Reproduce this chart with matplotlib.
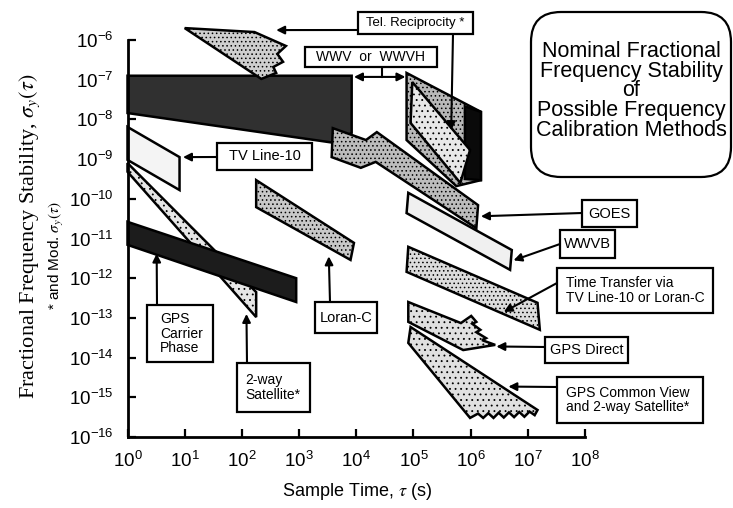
import numpy as np
import matplotlib
matplotlib.use("Agg")
import matplotlib.pyplot as plt
from matplotlib.patches import Polygon, Rectangle, FancyBboxPatch

plt.rcParams['font.family'] = ['Liberation Sans', 'DejaVu Sans']
plt.rcParams['mathtext.fontset'] = 'stix'
plt.rcParams['hatch.linewidth'] = 0.6

# band outlines as (log10 tau, log10 sigma) vertices
wwv_tau = [0, 3.92, 3.92, 3.61, 0]
wwv_sig = [-6.9, -6.9, -8.34, -8.59, -7.84]

wwv_hi_tau = [4.88, 6.18, 6.18, 5.75, 4.88]
wwv_hi_sig = [-6.83, -7.81, -9.53, -9.68, -8.52]

# solid dark strip along the right side of the upper WWV block
wwv_edge_tau = [5.90, 6.18, 6.18, 5.90]
wwv_edge_sig = [-7.67, -7.81, -9.53, -9.50]

tel_tau = [1.0, 2.22, 2.77, 2.62, 2.72, 2.55, 2.60, 2.34]
tel_sig = [-5.70, -5.80, -6.15, -6.35, -6.55, -6.68, -6.83, -6.98]

tel_hi_tau = [4.98, 5.99, 5.82, 4.95]
tel_hi_sig = [-7.06, -8.77, -9.60, -8.09]

tv_tau = [0, 0.91, 0.91, 0]
tv_sig = [-8.19, -8.95, -9.78, -9.02]

sat_tau = [0, 2.25, 2.25, 0]
sat_sig = [-9.10, -12.35, -12.98, -9.32]

loran_tau = [2.25, 3.96, 3.90, 2.25]
loran_sig = [-9.53, -11.11, -11.54, -10.21]

carrier_tau = [0, 2.95, 2.95, 0]
carrier_sig = [-10.58, -12.0, -12.6, -11.16]

goes_tau = [3.59, 4.17, 4.36, 6.13, 6.10, 4.34, 4.08, 3.57]
goes_sig = [-8.22, -8.52, -8.32, -10.16, -10.74, -9.07, -9.22, -8.95]

wwvb_tau = [4.91, 6.72, 6.69, 4.88]
wwvb_sig = [-9.85, -11.29, -11.79, -10.36]

transfer_tau = [4.91, 7.17, 7.21, 4.88]
transfer_sig = [-11.21, -12.62, -13.30, -11.84]

gpsd_tau = [4.91, 5.83, 6.01, 6.10, 6.03, 6.17, 6.10, 6.27, 6.20, 6.43, 5.87, 4.91]
gpsd_sig = [-12.60, -13.13, -12.95, -13.10, -13.15, -13.30, -13.36, -13.51, -13.56, -13.68, -13.81, -13.10]

cv_tau = [4.95, 7.17, 7.12, 7.03, 6.94, 6.85, 6.76, 6.67, 6.58, 6.49, 6.40, 6.31, 6.22, 6.13, 5.99, 4.91]
cv_sig = [-13.23, -15.32, -15.45, -15.36, -15.49, -15.37, -15.50, -15.38, -15.51, -15.39, -15.52, -15.40, -15.52, -15.41, -15.52, -13.63]

# (tau, sigma, face colour, speckle hatch)
bands = [
    (wwv_tau, wwv_sig, '#303030', None),
    (wwv_hi_tau, wwv_hi_sig, '#b8b8b8', '....'),
    (wwv_edge_tau, wwv_edge_sig, '#0a0a0a', None),
    (tel_tau, tel_sig, '#cfcfcf', '....'),
    (tel_hi_tau, tel_hi_sig, '#e8e8e8', '...'),
    (tv_tau, tv_sig, '#f4f4f4', None),
    (sat_tau, sat_sig, '#e6e6e6', '...'),
    (loran_tau, loran_sig, '#c8c8c8', '....'),
    (carrier_tau, carrier_sig, '#1c1c1c', None),
    (goes_tau, goes_sig, '#bcbcbc', '....'),
    (wwvb_tau, wwvb_sig, '#f0f0f0', None),
    (transfer_tau, transfer_sig, '#dcdcdc', '....'),
    (gpsd_tau, gpsd_sig, '#e0e0e0', '...'),
    (cv_tau, cv_sig, '#e0e0e0', '...'),
]

W, H = 733, 508
fig = plt.figure(figsize=(W / 100, H / 100), dpi=100)
ax = fig.add_axes([127.5 / W, (H - 437) / H, (585 - 127.5) / W, (437 - 40) / H])
ax.set_xscale('log')
ax.set_yscale('log')
ax.set_xlim(1, 1e8)
ax.set_ylim(1e-16, 1e-6)
ax.set_xticks(10.0 ** np.arange(0, 9))
ax.set_yticks(10.0 ** np.arange(-16, -5))
ax.minorticks_off()
for s in ('top', 'right'):
    ax.spines[s].set_visible(False)
for s in ('left', 'bottom'):
    ax.spines[s].set_linewidth(2)
ax.tick_params(direction='in', length=6, width=1.6, labelsize=13.5)
ax.tick_params(axis='x', pad=10)
ax.tick_params(axis='y', pad=10)

for tau, sig, color, hatch in bands:
    verts = np.column_stack([10.0 ** np.array(tau), 10.0 ** np.array(sig)])
    ax.add_patch(Polygon(verts, closed=True, facecolor=color, edgecolor='black',
                         hatch=hatch, lw=1.8, clip_on=False, zorder=2))


def inch(x, y):
    return x / 100, (H - y) / 100


def box(x0, y0, x1, y1, lines, size=10.5, ha='center', tx=None):
    fig.add_artist(Rectangle(inch(x0, y1), (x1 - x0) / 100, (y1 - y0) / 100,
                             transform=fig.dpi_scale_trans, facecolor='white',
                             edgecolor='black', lw=1.6, zorder=5))
    if tx is None:
        tx = (x0 + x1) / 2
    fig.text(*inch(tx, (y0 + y1) / 2), '\n'.join(lines), transform=fig.dpi_scale_trans,
             ha=ha, va='center', fontsize=size, linespacing=1.05, zorder=6)


def arrow(tail, tip, style='-|>'):
    ax.annotate('', xy=(10 ** tip[0], 10 ** tip[1]), xycoords='data',
                xytext=inch(*tail), textcoords=fig.dpi_scale_trans,
                arrowprops=dict(arrowstyle=style, color='black', lw=1.5,
                                mutation_scale=12, shrinkA=0, shrinkB=0),
                annotation_clip=False, zorder=4)


# labels with pointers
box(358, 12, 473, 34, ['Tel. Reciprocity *'], size=9.5)
arrow((358, 30), (2.6, -5.75))
arrow((453, 34), (5.66, -8.27))

box(305, 47, 437, 67, ['WWV  or  WWVH'], size=10)
ax.plot([10 ** ((383 - 127.5) / 57.5)] * 2, [10 ** -6.68, 10 ** -6.93], color='black',
        lw=1.5, clip_on=False, zorder=4)
ax.annotate('', xy=(10 ** 4.86, 10 ** -6.93), xytext=(10 ** 3.96, 10 ** -6.93),
            arrowprops=dict(arrowstyle='<|-|>', color='black', lw=1.5,
                            mutation_scale=12, shrinkA=0, shrinkB=0), zorder=4)

box(217, 143, 312, 170, ['TV Line-10'], size=10.5)
arrow((217, 157), (0.97, -8.95))

box(582, 200, 637, 227, ['GOES'], size=10.5)
arrow((582, 213), (6.18, -10.44))

box(560, 230, 615, 258, ['WWVB'], size=10.5)
arrow((560, 244), (6.75, -11.55))

box(557, 268, 713, 313, ['Time Transfer via', 'TV Line-10 or Loran-C'], size=10,
    ha='left', tx=566)
arrow((557, 283), (6.58, -12.85))

box(545, 337, 628, 363, ['GPS Direct'], size=10.5)
arrow((545, 347), (6.45, -13.72))

box(557, 377, 703, 423, ['GPS Common View', 'and 2-way Satellite*'], size=10,
    ha='left', tx=566)
arrow((557, 387), (6.66, -14.73))

box(147, 305, 213, 362, ['GPS', 'Carrier', 'Phase'], size=10, ha='left', tx=160)
arrow((157, 305), (0.51, -11.38))

box(237, 363, 310, 412, ['2-way', 'Satellite*'], size=10, ha='left', tx=245)
arrow((247, 363), (2.08, -12.9))

box(315, 302, 377, 333, ['Loran-C'], size=10.5)
arrow((330, 302), (3.52, -11.45))

# title panel
fig.add_artist(FancyBboxPatch(inch(531, 177), 2.0, 1.65,
                              boxstyle='round,pad=0,rounding_size=0.3',
                              transform=fig.dpi_scale_trans, facecolor='white',
                              edgecolor='black', lw=1.6))
fig.text(*inch(631, 91), 'Nominal Fractional\nFrequency Stability\nof\n'
         'Possible Frequency\nCalibration Methods', transform=fig.dpi_scale_trans,
         ha='center', va='center', fontsize=15.5, linespacing=0.93)

fig.text(30 / W, 1 - 236 / H, r'Fractional Frequency Stability, $\sigma_y(\tau)$',
         rotation=90, ha='center', va='center', fontsize=16,
         family=['Liberation Serif', 'DejaVu Serif'])
fig.text(57 / W, 1 - 256 / H, r'* and Mod. $\sigma_y(\tau)$', rotation=90,
         ha='center', va='center', fontsize=11)
fig.text(357 / W, 1 - 491 / H, r'Sample Time, $\tau$ (s)', ha='center', va='center',
         fontsize=13)

fig.savefig('out.png', dpi=100)
